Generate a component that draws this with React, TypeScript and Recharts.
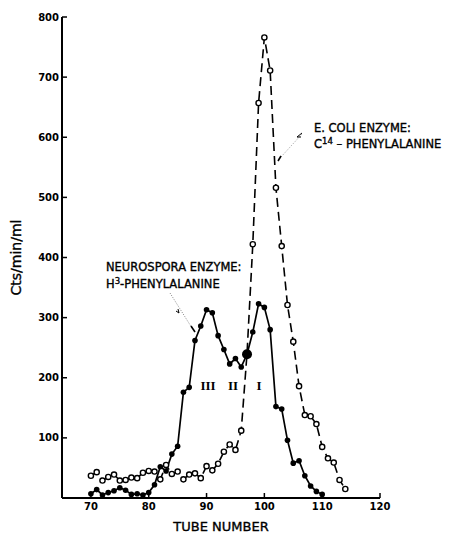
import React from 'react';
import {
  LineChart,
  Line,
  XAxis,
  YAxis,
  Label,
  Customized,
} from 'recharts';

// tube numbers (x) and counts per tube for both enzyme preparations
const tubes = [
  70, 71, 72, 73, 74, 75, 76, 77, 78, 79, 80, 81, 82, 83, 84, 85, 86, 87, 88,
  89, 90, 91, 92, 93, 94, 95, 96, 97, 98, 99, 100, 101, 102, 103, 104, 105, 106,
  107, 108, 109, 110, 111, 112, 113, 114,
];

// Neurospora enzyme: H3-phenylalanine (tubes 70-110)
const neurospora = [
  7, 14, 5, 9, 12, 17, 13, 6, 7, 5, 9, 22, 52, 45, 73, 86, 176, 184, 262, 286,
  313, 308, 270, 247, 223, 232, 218, 239, 276, 323, 317, 280, 152, 148, 96, 58,
  62, 37, 20, 11, 6,
];

// E. coli enzyme: C14-phenylalanine (tubes 70-114)
const ecoli = [
  37, 43, 29, 35, 39, 29, 30, 34, 33, 42, 45, 44, 31, 55, 40, 44, 31, 39, 41, 33,
  53, 46, 57, 77, 89, 80, 112, 240, 422, 657, 766, 711, 516, 419, 321, 260, 186,
  138, 136, 123, 85, 66, 59, 30, 15,
];

const xTicks = [70, 80, 90, 100, 110, 120];
const yTicks = [100, 200, 300, 400, 500, 600, 700, 800];

const data = tubes.map((tube, i) => ({
  tube,
  neurospora: i < neurospora.length ? neurospora[i] : null,
  ecoli: ecoli[i],
}));

const FONT = '"DejaVu Sans", sans-serif';
const tickStyle = { fontSize: 10, fontWeight: 'bold', fill: '#000', fontFamily: FONT };
// the lettering in the scan is a bit heavier than the regular face
const heavy = { stroke: '#000', strokeWidth: 0.35 };

const FilledDot = (props: any) => {
  const { cx, cy, payload } = props;
  if (cx == null || cy == null) return null;
  // tube 97 is drawn as a heavier dot where both curves meet
  const r = payload.tube === 97 ? 5 : 2.8;
  return <circle key={`f-${payload.tube}`} cx={cx} cy={cy} r={r} fill="#000" />;
};

const Annotations = () => (
  <g fontFamily={FONT} fill="#000">
    <g {...heavy}>
      <text x={106} y={270.5} fontSize={11.5}>NEUROSPORA ENZYME:</text>
      <text x={106} y={287.5} fontSize={11.5}>
        H<tspan dy={-4} fontSize={8.5}>3</tspan>
        <tspan dy={4}>-PHENYLALANINE</tspan>
      </text>
      <text x={314} y={131.5} fontSize={11.5}>E. COLI ENZYME:</text>
      <text x={314} y={148} fontSize={11.5}>
        C<tspan dy={-4} fontSize={8.5}>14</tspan>
        <tspan dy={4}> – PHENYLALANINE</tspan>
      </text>
    </g>

    {/* arrows */}
    <line x1={170} y1={293} x2={192} y2={328} stroke="#666" strokeWidth={0.8} strokeDasharray="1 1.5" />
    <path d="M176 311 L179 313 L178 309" stroke="#000" strokeWidth={1} fill="none" />
    <line x1={191} y1={326} x2={195} y2={332} stroke="#000" strokeWidth={1.6} />
    <line x1={302} y1={134} x2={281} y2={157} stroke="#888" strokeWidth={0.8} strokeDasharray="1 1.5" />
    <path d="M302 133 L297 137 L301 137" stroke="#000" strokeWidth={1} fill="none" />
    <line x1={281} y1={156} x2={278} y2={161} stroke="#000" strokeWidth={1.6} />

    {/* peak numbers */}
    <g fontFamily='"Liberation Serif", serif' fontWeight="bold" fontSize={13} textAnchor="middle">
      <text x={208} y={390}>III</text>
      <text x={233} y={390}>II</text>
      <text x={259} y={390}>I</text>
    </g>
  </g>
);

export default function App() {
  return (
    <div style={{ position: 'absolute', left: 0, top: 0, background: '#fff' }}>
      <LineChart
        width={449}
        height={536}
        data={data}
        margin={{ top: 17, right: 69, bottom: 0, left: 0 }}
        style={{ fontFamily: FONT }}
      >
        <XAxis
          dataKey="tube"
          type="number"
          domain={[65, 120]}
          ticks={xTicks}
          allowDataOverflow
          height={38}
          tickSize={-5}
          tickMargin={10}
          tick={tickStyle}
          axisLine={{ stroke: '#000', strokeWidth: 2 }}
          tickLine={{ stroke: '#000', strokeWidth: 1.5 }}
        >
          <Label
            value="TUBE NUMBER"
            position="insideBottom"
            offset={5}
            style={{ fontSize: 13, fill: '#000', fontFamily: FONT, ...heavy }}
          />
        </XAxis>
        <YAxis
          type="number"
          domain={[0, 800]}
          ticks={yTicks}
          width={62}
          tickSize={-5}
          tickMargin={8}
          tick={tickStyle}
          axisLine={{ stroke: '#000', strokeWidth: 2 }}
          tickLine={{ stroke: '#000', strokeWidth: 1.5 }}
        >
          <Label
            content={({ viewBox }: any) => (
              <text
                x={16}
                y={viewBox.y + viewBox.height / 2}
                transform={`rotate(-90 16 ${viewBox.y + viewBox.height / 2})`}
                textAnchor="middle"
                dominantBaseline="central"
                fontSize={14}
                fontFamily={FONT}
                fill="#000"
                {...heavy}
              >
                Cts/min/ml
              </text>
            )}
          />
        </YAxis>
        <Line
          type="linear"
          dataKey="ecoli"
          stroke="#000"
          strokeWidth={1.6}
          strokeDasharray="9 5"
          dot={{ r: 2.6, fill: '#fff', stroke: '#000', strokeWidth: 1.4, strokeDasharray: '' }}
          isAnimationActive={false}
        />
        <Line
          type="linear"
          dataKey="neurospora"
          stroke="#000"
          strokeWidth={1.7}
          dot={FilledDot}
          isAnimationActive={false}
        />
        <Customized component={<Annotations />} />
      </LineChart>
    </div>
  );
}
